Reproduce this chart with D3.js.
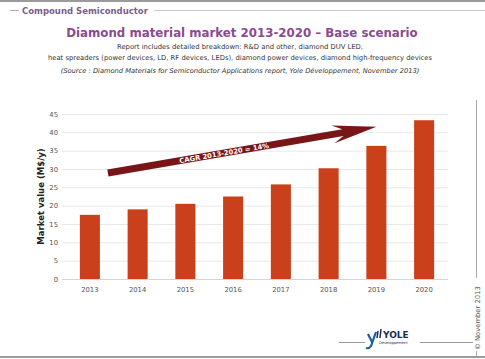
<!DOCTYPE html>
<html>
<head>
<meta charset="utf-8">
<script src="https://cdn.jsdelivr.net/npm/d3@7"></script>
<style>
  body { margin: 0; background: #fff; }
  svg { display: block; font-family: "DejaVu Sans", Verdana, sans-serif; }
</style>
</head>
<body>
<div id="chart"></div>
<script>
// chart data
const years = ["2013", "2014", "2015", "2016", "2017", "2018", "2019", "2020"];
const marketValues = [17.5, 19, 20.5, 22.5, 25.8, 30.2, 36.3, 43.3];
const yTicks = [0, 5, 10, 15, 20, 25, 30, 35, 40, 45];
const cagrLabel = "CAGR 2013-2020 = 14%";
const subtitleLines = [
    "Report includes detailed breakdown: R&D and other, diamond DUV LED,",
    "heat spreaders (power devices, LD, RF devices, LEDs), diamond power devices, diamond high-frequency devices"
];
const sourceLine = "(Source : Diamond Materials for Semiconductor Applications report, Yole Développement, November 2013)";

const width = 485, height = 359;
const svg = d3.select("#chart").append("svg")
    .attr("width", width)
    .attr("height", height);

// page frame lines
svg.append("rect").attr("x", 0).attr("y", 0).attr("width", width).attr("height", 2).style("fill", "#9a9a9a");
svg.append("rect").attr("x", 0).attr("y", 356).attr("width", width).attr("height", 2).style("fill", "#9a9a9a");

// header
svg.append("line").attr("x1", 10).attr("x2", 19).attr("y1", 10.5).attr("y2", 10.5)
    .style("stroke", "#b9a6c1").style("stroke-width", 1);
const header = svg.append("text")
    .attr("x", 22).attr("y", 13.5)
    .style("font-size", "8.5px").style("font-weight", "bold")
    .style("fill", "#7e5d8c")
    .text("Compound Semiconductor");
const hb = header.node().getBBox();
svg.append("line").attr("x1", hb.x + hb.width + 5).attr("x2", width).attr("y1", 10.5).attr("y2", 10.5)
    .style("stroke", "#c9c9c9").style("stroke-width", 1);

// title and subtitles
svg.append("text")
    .attr("x", 242).attr("y", 37)
    .attr("text-anchor", "middle")
    .style("font-size", "11.8px").style("font-weight", "bold")
    .style("fill", "#8c4a92")
    .text("Diamond material market 2013-2020 \u2013 Base scenario");

svg.selectAll(".sub")
    .data(subtitleLines)
    .enter()
    .append("text")
    .attr("class", "sub")
    .attr("x", 240)
    .attr("y", (d, i) => 49 + i * 11)
    .attr("text-anchor", "middle")
    .style("font-size", "6.8px")
    .style("fill", "#333")
    .text(d => d);

svg.append("text")
    .attr("x", 240).attr("y", 73)
    .attr("text-anchor", "middle")
    .style("font-size", "6.7px").style("font-style", "italic")
    .style("fill", "#333")
    .text(sourceLine);

// scales
const x = d3.scaleBand().domain(years).range([66, 448]).paddingInner(0.58).paddingOuter(0.29);
const y = d3.scaleLinear().domain([0, 45]).range([279, 114]);

// gridlines
svg.append("g")
    .selectAll("line")
    .data(yTicks)
    .enter()
    .append("line")
    .attr("x1", 62).attr("x2", 448)
    .attr("y1", d => y(d) + 0.5).attr("y2", d => y(d) + 0.5)
    .style("stroke", d => d === 0 ? "#d4d4d4" : "#e8e8e8")
    .style("stroke-width", 1);

// y axis labels
const yAxis = svg.append("g")
    .attr("transform", "translate(58,0)")
    .call(d3.axisLeft(y).tickValues(yTicks).tickSize(0).tickPadding(0));
yAxis.select(".domain").remove();
yAxis.selectAll("text")
    .style("font-size", "6.8px").style("fill", "#555")
    .style("font-family", "\"DejaVu Sans\", sans-serif");

// x axis labels
const xAxis = svg.append("g")
    .attr("transform", "translate(0,287)")
    .call(d3.axisBottom(x).tickSize(0).tickPadding(0));
xAxis.select(".domain").remove();
xAxis.selectAll("text")
    .style("font-size", "6.8px").style("fill", "#555")
    .style("font-family", "\"DejaVu Sans\", sans-serif");

// y axis title
svg.append("text")
    .attr("transform", "translate(44," + y(22.5) + ") rotate(-90)")
    .attr("text-anchor", "middle")
    .style("font-size", "8.5px").style("font-weight", "bold")
    .style("fill", "#222")
    .text("Market value (M$/y)");

// bars
svg.append("g")
    .selectAll("rect")
    .data(marketValues)
    .enter()
    .append("rect")
    .attr("x", (d, i) => x(years[i]))
    .attr("y", d => y(d))
    .attr("width", x.bandwidth())
    .attr("height", d => y(0) - y(d))
    .style("fill", "#c9401b");

// CAGR arrow, anchored on the scales
const x0 = x("2013") + x.bandwidth() / 2 + 18, y0 = y(28.9);
const x1 = x("2019") + x.bandwidth() / 2, y1 = y(41.5);
const ang = Math.atan2(y1 - y0, x1 - x0);
const len = Math.hypot(x1 - x0, y1 - y0);
const headLen = 44, shaftH = 3.5, headH = 9;
const arrow = svg.append("g")
    .attr("transform", "translate(" + x0 + "," + y0 + ") rotate(" + (ang * 180 / Math.PI) + ")");
arrow.append("path")
    .attr("d", d3.line()([
        [0, -shaftH], [len - headLen + 10, -shaftH], [len - headLen, -headH],
        [len, 0], [len - headLen, headH], [len - headLen + 10, shaftH], [0, shaftH]
    ]) + "Z")
    .style("fill", "#7a1517");
arrow.append("text")
    .attr("x", 118).attr("y", 2.5)
    .attr("text-anchor", "middle")
    .style("font-size", "6.8px").style("font-weight", "bold")
    .style("fill", "#fff")
    .text(cagrLabel);

// right side rule and copyright
svg.append("line").attr("x1", 476.5).attr("x2", 476.5).attr("y1", 100).attr("y2", 278)
    .style("stroke", "#aaa").style("stroke-width", 1);
svg.append("text")
    .attr("transform", "translate(479.5,350) rotate(-90)")
    .style("font-size", "6.8px").style("fill", "#555")
    .text("\u00a9 November 2013");
svg.append("line").attr("x1", 476.5).attr("x2", 476.5).attr("y1", 351).attr("y2", 356)
    .style("stroke", "#aaa").style("stroke-width", 1);

// Yole logo
svg.append("line").attr("x1", 339).attr("x2", 365).attr("y1", 342.5).attr("y2", 342.5)
    .style("stroke", "#999").style("stroke-width", 1);
svg.append("line").attr("x1", 420).attr("x2", 473).attr("y1", 342.5).attr("y2", 342.5)
    .style("stroke", "#999").style("stroke-width", 1);
const logo = svg.append("g").attr("transform", "translate(366,328)");
logo.append("path")
    .attr("d", "M2,6 L6,14 M10,4 L5,18 Q3,21 0,20")
    .style("fill", "none").style("stroke", "#1f5f9e").style("stroke-width", 2.2);
logo.append("path")
    .attr("d", "M11,10 L12,3 M14,10 L15,1")
    .style("fill", "none").style("stroke", "#1a2c5a").style("stroke-width", 1.5);
logo.append("text")
    .attr("x", 17).attr("y", 10)
    .style("font-size", "9px").style("font-weight", "bold")
    .style("fill", "#1a2c5a")
    .text("YOLE");
logo.append("text")
    .attr("x", 13).attr("y", 16)
    .style("font-size", "3.6px").style("fill", "#1a2c5a")
    .text("Développement");
</script>
</body>
</html>
